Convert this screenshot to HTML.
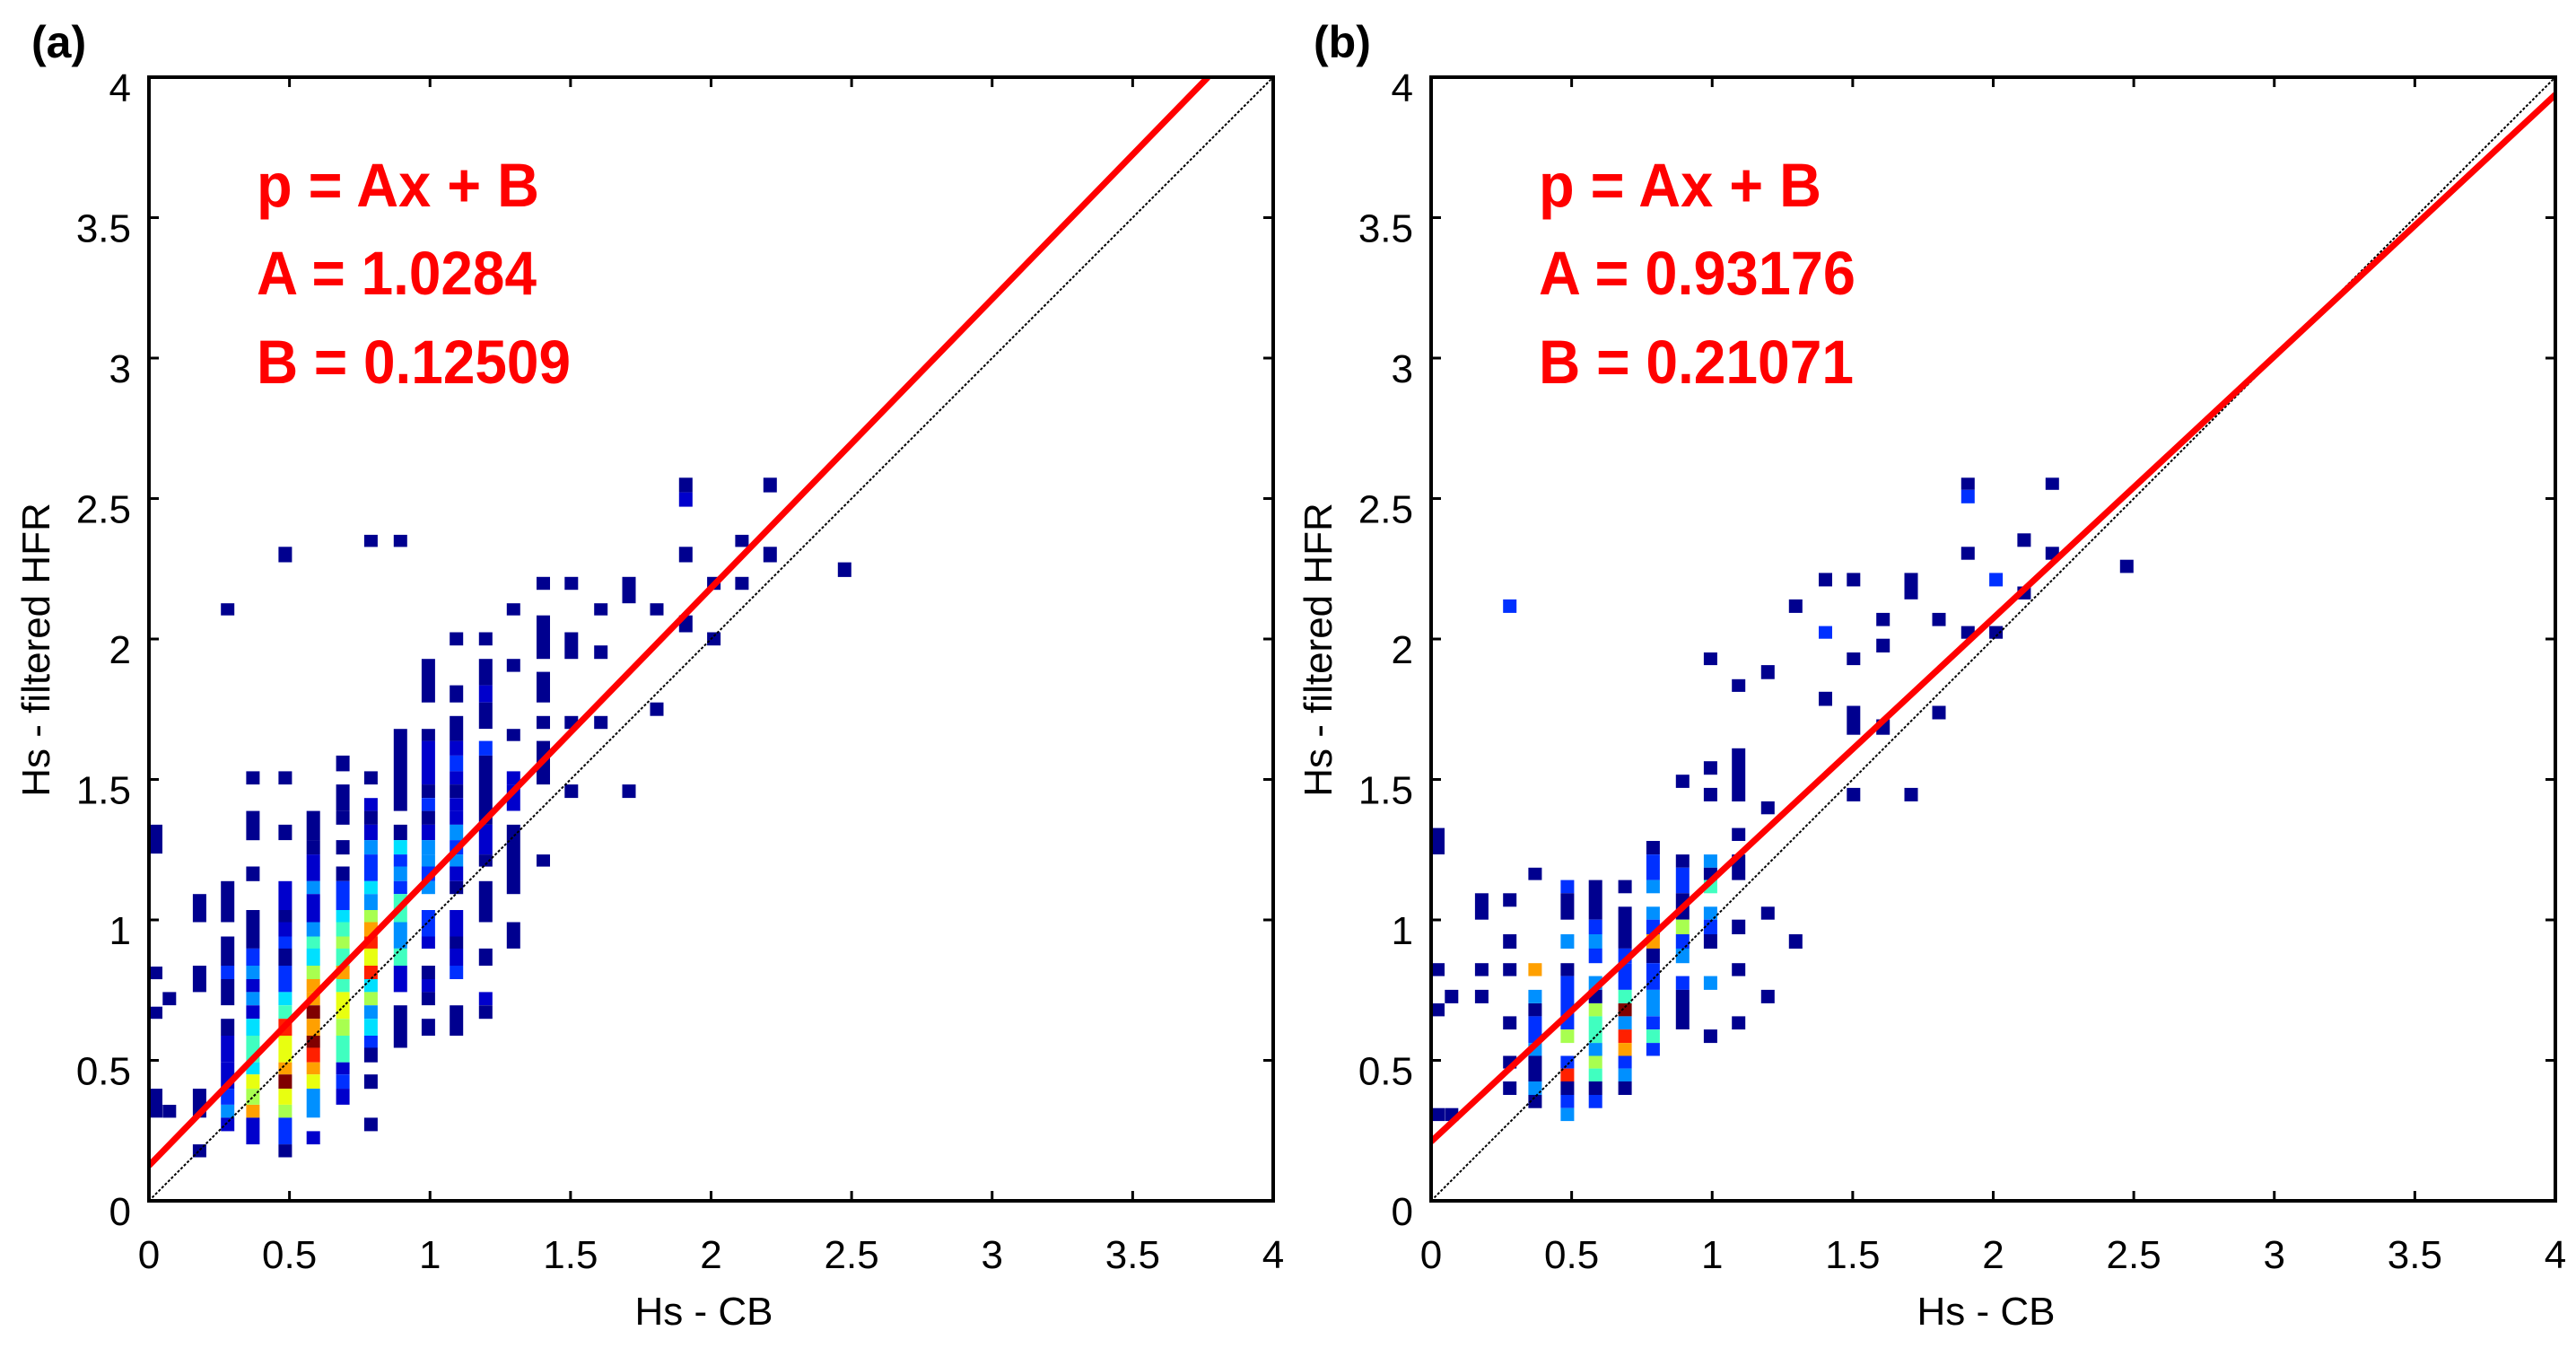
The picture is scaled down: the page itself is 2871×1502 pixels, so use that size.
<!DOCTYPE html>
<html><head><meta charset="utf-8"><style>
html,body{margin:0;padding:0;background:#fff}
svg{display:block}
text{font-family:"Liberation Sans",sans-serif}
</style></head><body>
<svg id="fig" width="2871" height="1502" viewBox="0 0 2871 1502" xmlns="http://www.w3.org/2000/svg"></svg>
<script>
// ---- data ----
const tickValues = [0,0.5,1,1.5,2,2.5,3,3.5,4];
const tickLabels = ["0","0.5","1","1.5","2","2.5","3","3.5","4"];
const colorLevels = ["#00008f","#0000cc","#0030ff","#0090ff","#00e0ff","#40ffc0","#a8ff50","#e8ff10","#ffa000","#ff2000","#800000"];
const fitA = [1.0284, 0.93176];
const fitB = [0.12509, 0.21071];
const fitLabelA = ["A = 1.0284","A = 0.93176"];
const fitLabelB = ["B = 0.12509","B = 0.21071"];
const panelLetters = ["(a)","(b)"];
const colsX = [0.024,0.073,0.18,0.28,0.37,0.485,0.585,0.69,0.79,0.895,0.994,1.094,1.198,1.297,1.403,1.503,1.608,1.708,1.807,1.91,2.01,2.11,2.21,2.475];
const runsA = [
[[1.236,1.339,1],[0.789,0.834,1],[0.648,0.691,1],[0.296,0.399,1]],
[[0.696,0.743,1],[0.296,0.342,1]],
[[0.992,1.092,1],[0.743,0.837,1],[0.296,0.399,1],[0.155,0.201,1]],
[[2.084,2.127,1],[0.992,1.138,1],[0.837,0.941,1],[0.789,0.837,3],[0.696,0.789,1],[0.588,0.648,1],[0.493,0.588,2],[0.399,0.493,2],[0.342,0.399,3],[0.296,0.342,4],[0.248,0.296,2]],
[[1.482,1.529,1],[1.284,1.388,1],[1.138,1.190,1],[0.898,1.035,1],[0.837,0.898,3],[0.789,0.837,4],[0.743,0.789,2],[0.696,0.743,4],[0.648,0.696,2],[0.588,0.648,5],[0.545,0.588,6],[0.493,0.545,6],[0.450,0.493,5],[0.399,0.450,8],[0.342,0.399,7],[0.296,0.342,9],[0.201,0.296,2]],
[[2.273,2.328,1],[1.482,1.529,1],[1.284,1.339,1],[1.035,1.138,2],[0.992,1.035,1],[0.941,0.992,2],[0.898,0.941,3],[0.837,0.898,1],[0.789,0.837,3],[0.743,0.789,3],[0.696,0.743,5],[0.648,0.696,6],[0.588,0.648,10],[0.493,0.588,8],[0.450,0.493,9],[0.399,0.450,11],[0.342,0.399,8],[0.296,0.342,7],[0.201,0.296,3],[0.155,0.201,1]],
[[1.284,1.388,1],[1.233,1.284,1],[1.190,1.233,2],[1.138,1.190,2],[1.092,1.138,4],[0.992,1.092,2],[0.941,0.992,4],[0.898,0.941,6],[0.837,0.898,5],[0.789,0.837,7],[0.743,0.789,9],[0.696,0.743,9],[0.648,0.696,11],[0.588,0.648,9],[0.545,0.588,11],[0.493,0.545,10],[0.450,0.493,9],[0.399,0.450,8],[0.296,0.399,4],[0.201,0.248,2]],
[[1.529,1.585,1],[1.388,1.482,1],[1.339,1.388,1],[1.233,1.284,1],[1.138,1.190,1],[1.035,1.138,3],[0.992,1.035,5],[0.941,0.992,6],[0.898,0.941,7],[0.837,0.898,6],[0.789,0.837,9],[0.743,0.789,6],[0.648,0.743,8],[0.588,0.648,7],[0.493,0.588,6],[0.450,0.493,2],[0.399,0.450,3],[0.342,0.399,2]],
[[2.328,2.371,1],[1.482,1.529,1],[1.388,1.434,2],[1.339,1.388,1],[1.284,1.339,2],[1.233,1.284,4],[1.190,1.233,3],[1.138,1.190,3],[1.092,1.138,5],[1.035,1.092,4],[0.992,1.035,7],[0.941,0.992,9],[0.898,0.941,10],[0.837,0.898,8],[0.789,0.837,10],[0.743,0.789,5],[0.696,0.743,7],[0.648,0.696,4],[0.588,0.648,5],[0.545,0.588,3],[0.493,0.545,1],[0.399,0.450,1],[0.248,0.296,1]],
[[2.328,2.371,1],[1.388,1.680,1],[1.284,1.339,1],[1.233,1.284,5],[1.190,1.233,3],[1.138,1.190,4],[1.092,1.138,3],[1.035,1.092,6],[0.992,1.035,6],[0.898,0.992,4],[0.837,0.898,6],[0.743,0.837,2],[0.545,0.696,1]],
[[1.774,1.929,1],[1.637,1.680,1],[1.482,1.637,2],[1.434,1.482,1],[1.388,1.434,3],[1.339,1.388,1],[1.284,1.339,2],[1.233,1.284,4],[1.190,1.233,4],[1.138,1.190,3],[1.092,1.138,4],[0.992,1.035,3],[0.941,0.992,3],[0.898,0.941,2],[0.789,0.837,1],[0.743,0.789,2],[0.696,0.743,1],[0.588,0.648,1]],
[[1.977,2.024,1],[1.774,1.835,1],[1.637,1.726,1],[1.585,1.637,2],[1.529,1.585,3],[1.482,1.529,2],[1.434,1.482,1],[1.388,1.434,2],[1.339,1.388,2],[1.284,1.339,4],[1.233,1.284,3],[1.190,1.233,4],[1.138,1.190,2],[1.092,1.138,1],[0.992,1.035,2],[0.941,0.992,2],[0.898,0.941,1],[0.837,0.898,2],[0.789,0.837,3],[0.588,0.696,1]],
[[1.977,2.024,1],[1.835,1.929,1],[1.774,1.835,2],[1.680,1.774,1],[1.585,1.637,3],[1.339,1.585,1],[1.233,1.339,2],[1.190,1.233,1],[0.992,1.138,1],[0.837,0.898,1],[0.696,0.743,2],[0.648,0.696,1]],
[[2.084,2.127,1],[1.883,1.929,1],[1.637,1.680,1],[1.482,1.529,2],[1.388,1.482,2],[1.092,1.339,1],[0.898,0.992,1]],
[[2.175,2.221,1],[1.929,2.084,1],[1.774,1.883,1],[1.680,1.726,1],[1.482,1.637,1],[1.190,1.233,1]],
[[2.175,2.221,1],[1.929,2.024,1],[1.680,1.726,1],[1.434,1.482,1]],
[[2.084,2.127,1],[1.929,1.977,1],[1.680,1.726,1]],
[[2.127,2.221,1],[1.434,1.482,1]],
[[2.084,2.127,1],[1.726,1.774,1]],
[[2.522,2.574,1],[2.471,2.522,2],[2.273,2.328,1],[2.024,2.084,1]],
[[2.175,2.221,1],[1.977,2.024,1]],
[[2.328,2.371,1],[2.175,2.221,1]],
[[2.522,2.574,1],[2.273,2.328,1]],
[[2.221,2.273,1]]
];
const runsB = [
[[1.233,1.327,1],[0.800,0.846,1],[0.657,0.703,1],[0.284,0.330,1]],
[[0.703,0.751,1],[0.284,0.330,1]],
[[1.001,1.095,1],[0.800,0.846,1],[0.703,0.751,1]],
[[2.093,2.141,3],[1.047,1.095,1],[0.898,0.949,1],[0.800,0.846,1],[0.610,0.657,1],[0.471,0.516,1],[0.377,0.425,1]],
[[1.142,1.186,1],[0.800,0.846,9],[0.703,0.751,4],[0.657,0.703,1],[0.562,0.657,3],[0.516,0.562,4],[0.425,0.516,1],[0.377,0.425,4],[0.330,0.377,1]],
[[1.095,1.142,3],[1.001,1.095,1],[0.898,0.949,4],[0.800,0.846,1],[0.610,0.800,3],[0.562,0.610,7],[0.471,0.516,3],[0.425,0.471,10],[0.377,0.425,1],[0.330,0.377,3],[0.284,0.330,4]],
[[1.001,1.142,1],[0.949,1.001,3],[0.898,0.949,4],[0.846,0.898,3],[0.751,0.800,4],[0.703,0.751,1],[0.657,0.703,7],[0.562,0.657,6],[0.516,0.562,4],[0.471,0.516,7],[0.425,0.471,6],[0.377,0.425,1],[0.330,0.377,3]],
[[1.095,1.142,1],[0.898,1.047,1],[0.846,0.898,3],[0.751,0.846,3],[0.703,0.751,6],[0.657,0.703,11],[0.610,0.657,4],[0.562,0.610,10],[0.516,0.562,9],[0.471,0.516,3],[0.425,0.471,4],[0.377,0.425,1]],
[[1.233,1.281,1],[1.142,1.233,3],[1.095,1.142,4],[1.001,1.047,4],[0.949,1.001,3],[0.898,0.949,9],[0.846,0.898,1],[0.751,0.846,3],[0.657,0.751,4],[0.610,0.657,3],[0.562,0.610,6],[0.516,0.562,3]],
[[1.470,1.517,1],[1.186,1.233,1],[1.095,1.186,3],[1.001,1.095,1],[0.949,1.001,7],[0.898,0.949,3],[0.846,0.898,4],[0.751,0.800,3],[0.610,0.751,1]],
[[1.907,1.952,1],[1.517,1.565,1],[1.422,1.470,1],[1.186,1.233,4],[1.142,1.186,1],[1.095,1.142,6],[1.001,1.047,4],[0.949,1.001,3],[0.898,0.949,1],[0.751,0.800,4],[0.562,0.610,1]],
[[1.812,1.857,1],[1.422,1.611,1],[1.281,1.327,1],[1.142,1.233,1],[0.949,1.001,1],[0.800,0.846,1],[0.610,0.657,1]],
[[1.857,1.907,1],[1.376,1.422,1],[1.001,1.047,1],[0.703,0.751,1]],
[[2.093,2.141,1],[0.898,0.949,1]],
[[2.187,2.235,1],[2.001,2.046,3],[1.762,1.812,1]],
[[2.187,2.235,1],[1.907,1.952,1],[1.659,1.762,1],[1.422,1.470,1]],
[[2.046,2.093,1],[1.952,2.001,1],[1.659,1.714,1]],
[[2.141,2.235,1],[1.422,1.470,1]],
[[2.046,2.093,1],[1.714,1.762,1]],
[[2.531,2.574,1],[2.483,2.531,3],[2.282,2.328,1],[2.001,2.046,1]],
[[2.187,2.235,3],[2.001,2.046,1]],
[[2.328,2.376,1],[2.141,2.187,1]],
[[2.531,2.574,1],[2.282,2.328,1]],
[[2.235,2.282,1]]
];
const allRuns = [runsA, runsB];
const cellWidth = 0.048;

// ---- drawing ----
const NS = "http://www.w3.org/2000/svg";
const svg = document.getElementById("fig");
function mk(tag, attrs, parent){
  const e = document.createElementNS(NS, tag);
  for (const k in attrs) e.setAttribute(k, attrs[k]);
  (parent||svg).appendChild(e);
  return e;
}
const panelLeft = [166, 1595];
const plotTop = 86, plotBottom = 1338, plotW = 1253;
const xmax = 4, ymax = 4;

for (let p = 0; p < 2; p++) {
  const L = panelLeft[p];
  const sx = v => L + v / xmax * plotW;
  const sy = v => plotBottom - v / ymax * (plotBottom - plotTop);
  const g = mk("g", {});
  
  
  const clipId = "clip" + p;
  const cp = mk("clipPath", {id: clipId}, g);
  mk("rect", {x: L, y: plotTop, width: plotW, height: plotBottom - plotTop}, cp);

  const cells = mk("g", {"clip-path": "url(#" + clipId + ")"}, g);
  
  
  const runs = allRuns[p];
  for (let c = 0; c < colsX.length; c++) {
    for (const r of runs[c]) {
      const x0 = sx(colsX[c] - cellWidth / 2), x1 = sx(colsX[c] + cellWidth / 2);
      const rc = mk("rect", {x: x0.toFixed(1), y: sy(r[1]).toFixed(1), width: (x1 - x0).toFixed(1), height: (sy(r[0]) - sy(r[1])).toFixed(1), fill: colorLevels[r[2] - 1]}, cells);
      
      
    }
  }
  // 1:1 line
  const diag = mk("line", {x1: sx(0), y1: sy(0), x2: sx(4), y2: sy(4), stroke: "#000", "stroke-width": 2, "stroke-dasharray": "3 2", "clip-path": "url(#" + clipId + ")"}, g);
  
  
  // fit line
  const xEnd = Math.min(4, (4 - fitB[p]) / fitA[p]);
  const fit = mk("line", {x1: sx(0), y1: sy(fitB[p]), x2: sx(xEnd), y2: sy(fitA[p] * xEnd + fitB[p]), stroke: "#ff0000", "stroke-width": 7, "clip-path": "url(#" + clipId + ")"}, g);
  
  
  // axes box
  const box = mk("rect", {x: L, y: plotTop, width: plotW, height: plotBottom - plotTop, fill: "none", stroke: "#000", "stroke-width": 4}, g);
  
  
  // ticks
  for (let i = 0; i < tickValues.length; i++) {
    const tx = sx(tickValues[i]), ty = sy(tickValues[i]);
    mk("line", {x1: tx, y1: plotBottom, x2: tx, y2: plotBottom - 11, stroke: "#000", "stroke-width": 3}, g);
    mk("line", {x1: tx, y1: plotTop, x2: tx, y2: plotTop + 11, stroke: "#000", "stroke-width": 3}, g);
    mk("line", {x1: L, y1: ty, x2: L + 11, y2: ty, stroke: "#000", "stroke-width": 3}, g);
    mk("line", {x1: L + plotW, y1: ty, x2: L + plotW - 11, y2: ty, stroke: "#000", "stroke-width": 3}, g);
    const xl = mk("text", {x: tx, y: 1413, "font-size": 44, "text-anchor": "middle"}, g);
    xl.textContent = tickLabels[i];
    
    
    const yl = mk("text", {x: L - 20, y: ty + 27, "font-size": 44, "text-anchor": "end"}, g);
    yl.textContent = tickLabels[i];
    
    
  }
  const xt = mk("text", {x: L + plotW / 2 - 8, y: 1476, "font-size": 44, "text-anchor": "middle"}, g);
  xt.textContent = "Hs - CB";
  
  
  const yt = mk("text", {x: 0, y: 0, "font-size": 44, "text-anchor": "middle", transform: "translate(" + (L - 111) + ",724) rotate(-90)"}, g);
  yt.textContent = "Hs - filtered HFR";
  
  
  const pl = mk("text", {x: L - 131, y: 64, "font-size": 50, "font-weight": "bold"}, g);
  pl.textContent = panelLetters[p];
  
  
  // equation text
  const tx0 = L + 120;
  const lines = ["p = Ax + B", fitLabelA[p], fitLabelB[p]];
  const widths = [315, p === 0 ? 312 : 353, p === 0 ? 350 : 351];
  const bases = [230, 328, 427];
  for (let k = 0; k < 3; k++) {
    const t = mk("text", {x: tx0, y: bases[k], "font-size": 69, "font-weight": "bold", fill: "#ff0000", textLength: widths[k], lengthAdjust: "spacingAndGlyphs"}, g);
    t.textContent = lines[k];
    
    
  }
}
</script>
</body></html>
